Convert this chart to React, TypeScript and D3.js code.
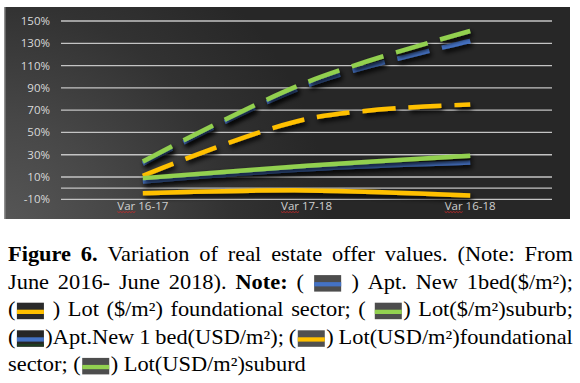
import React from "react";
import * as d3 from "d3";

const categories = ["Var 16-17", "Var 17-18", "Var 16-18"];
const yTicks = [-10, 10, 30, 50, 70, 90, 110, 130, 150];
const gridValues = [-10, 0, 10, 30, 50, 70, 90, 110, 130, 150];

// dashed series ($/m2)
const aptNew1bedPeso = [22, 92, 132];
const lotFoundationalPeso = [11, 62, 75];
const lotSuburbPeso = [24, 95, 141];
// solid series (USD/m2)
const aptNew1bedUsd = [6, 17, 23];
const lotFoundationalUsd = [-4.5, -2, -6.5];
const lotSuburbUsd = [9, 20, 29];

const BLUE = "#4472c4";
const ORANGE = "#ffc000";
const GREEN = "#92d050";

const seriesList = [
  { name: "Apt. New 1bed($/m2)", values: aptNew1bedPeso, color: BLUE, dashed: true },
  { name: "Lot ($/m2) foundational sector", values: lotFoundationalPeso, color: ORANGE, dashed: true },
  { name: "Lot($/m2)suburb", values: lotSuburbPeso, color: GREEN, dashed: true },
  { name: "Apt.New 1 bed(USD/m2)", values: aptNew1bedUsd, color: BLUE, dashed: false },
  { name: "Lot(USD/m2)foundational sector", values: lotFoundationalUsd, color: ORANGE, dashed: false },
  { name: "Lot(USD/m2)suburd", values: lotSuburbUsd, color: GREEN, dashed: false },
];

// caption: lines -> words -> pieces
type Piece = { t?: string; b?: boolean; icon?: number };
const captionLines: { words: Piece[][]; justify: boolean }[] = [
  {
    justify: true,
    words: [
      [{ t: "Figure", b: true }],
      [{ t: "6.", b: true }],
      [{ t: "Variation" }],
      [{ t: "of" }],
      [{ t: "real" }],
      [{ t: "estate" }],
      [{ t: "offer" }],
      [{ t: "values." }],
      [{ t: "(Note:" }],
      [{ t: "From" }],
    ],
  },
  {
    justify: true,
    words: [
      [{ t: "June" }],
      [{ t: "2016-" }],
      [{ t: "June" }],
      [{ t: "2018)." }],
      [{ t: "Note:", b: true }],
      [{ t: "(" }],
      [{ icon: 0 }],
      [{ t: ")" }],
      [{ t: "Apt." }],
      [{ t: "New" }],
      [{ t: "1bed($/m²);" }],
    ],
  },
  {
    justify: true,
    words: [
      [{ t: "(" }, { icon: 1 }],
      [{ t: ")" }],
      [{ t: "Lot" }],
      [{ t: "($/m²)" }],
      [{ t: "foundational" }],
      [{ t: "sector;" }],
      [{ t: "(" }],
      [{ icon: 2 }, { t: ")" }],
      [{ t: "Lot($/m²)suburb;" }],
    ],
  },
  {
    justify: true,
    words: [
      [{ t: "(" }, { icon: 3 }, { t: ")Apt.New" }],
      [{ t: "1" }],
      [{ t: "bed(USD/m²);" }],
      [{ t: "(" }, { icon: 4 }, { t: ")" }],
      [{ t: "Lot(USD/m²)foundational" }],
    ],
  },
  {
    justify: false,
    words: [
      [{ t: "sector;" }],
      [{ t: "(" }, { icon: 5 }, { t: ")" }],
      [{ t: "Lot(USD/m²)suburd" }],
    ],
  },
];

const iconStyles = [
  { bg: "#4d4d4d", stripe: BLUE, dots: false },
  { bg: "#2a2a2a", stripe: ORANGE, dots: false },
  { bg: "#4d4d4d", stripe: GREEN, dots: false },
  { bg: "#262626", stripe: BLUE, dots: true },
  { bg: "#505050", stripe: ORANGE, dots: false },
  { bg: "#4d4d4d", stripe: GREEN, dots: false },
];

const W = 580;
const H = 383;
const SERIF = '"Liberation Serif", "Times New Roman", serif';
const SANS = '"Open Sans", "Noto Sans", sans-serif';
const CAP_SIZE = 20;
const SX = 1.12; // horizontal stretch of caption text
const ICON_W = 27 / SX;
const ICON_PAD = 1.3;

let measureCtx: CanvasRenderingContext2D | null = null;
function measure(text: string, font: string): number {
  if (!measureCtx) {
    const c = document.createElement("canvas");
    measureCtx = c.getContext("2d");
  }
  if (!measureCtx) return text.length * 8;
  measureCtx.font = font;
  return measureCtx.measureText(text).width;
}

function serifFont(b?: boolean) {
  return `${b ? "bold " : ""}${CAP_SIZE}px "Liberation Serif"`;
}

function pieceWidth(p: Piece) {
  if (p.icon !== undefined) return ICON_W + ICON_PAD * 2;
  return measure(p.t || "", serifFont(p.b));
}

function Caption() {
  const left = 8 / SX;
  const right = 573 / SX;
  const firstBaseline = 261;
  const lineGap = 27.6;
  const out: React.ReactNode[] = [];
  captionLines.forEach((line, li) => {
    const baseline = firstBaseline + li * lineGap;
    const wordWidths = line.words.map((w) => w.reduce((s, p) => s + pieceWidth(p), 0));
    const total = wordWidths.reduce((a, b) => a + b, 0);
    const gap = line.justify
      ? (right - left - total) / (line.words.length - 1)
      : measure(" ", serifFont(false));
    let x = left;
    line.words.forEach((w, wi) => {
      let px = x;
      w.forEach((p, pi) => {
        const pw = pieceWidth(p);
        if (p.icon !== undefined) {
          const st = iconStyles[p.icon];
          const ix = px + ICON_PAD;
          const iy = baseline - 13.5;
          out.push(
            <g key={`i${li}-${wi}-${pi}`} transform={`translate(${ix},${iy})`}>
              <rect width={ICON_W} height={16.5} fill={st.bg} />
              <rect y={7} width={ICON_W} height={4.3} fill={st.stripe} />
              {st.dots && <rect y={13.5} width={ICON_W} height={2.5} fill="#1f3d22" />}
            </g>
          );
        } else {
          out.push(
            <text
              key={`t${li}-${wi}-${pi}`}
              x={px}
              y={baseline}
              fontFamily={SERIF}
              fontSize={CAP_SIZE}
              fontWeight={p.b ? "bold" : "normal"}
              fill="#000"
            >
              {p.t}
            </text>
          );
        }
        px += pw;
      });
      x += wordWidths[wi] + gap;
    });
  });
  return <g transform={`scale(${SX},1)`}>{out}</g>;
}

function Chart() {
  const plotLeft = 61;
  const plotRight = 552;
  const x = d3.scalePoint<string>().domain(categories).range([plotLeft, plotRight]).padding(0.5);
  const y = d3.scaleLinear().domain([-10, 150]).range([199.3, 21]);
  const line = d3
    .line<number>()
    .x((_, i) => x(categories[i]) as number)
    .y((d) => y(d))
    .curve(d3.curveCatmullRom.alpha(0.5));

  const labelFont = `11.5px "Open Sans"`;
  return (
    <g>
      <defs>
        <radialGradient id="bgGrad" gradientUnits="userSpaceOnUse" cx={0} cy={235} r={330}>
          <stop offset="0" stopColor="#585858" />
          <stop offset="0.35" stopColor="#474747" />
          <stop offset="0.7" stopColor="#323232" />
          <stop offset="1" stopColor="#272727" />
        </radialGradient>
        <filter id="shadow" filterUnits="userSpaceOnUse" x={0} y={0} width={W} height={230}>
          <feDropShadow dx={2} dy={3} stdDeviation={2.6} floodColor="#000" floodOpacity={1} />
        </filter>
      </defs>
      <rect x={4} y={7} width={566} height={212} fill="url(#bgGrad)" />
      <line x1={4.75} x2={4.75} y1={7} y2={219} stroke="#8f8f8f" strokeWidth={1.5} />
      {gridValues.map((v) => (
        <line
          key={v}
          x1={plotLeft}
          x2={plotRight}
          y1={y(v)}
          y2={y(v)}
          stroke="#c4c4c4"
          strokeWidth={1.3}
        />
      ))}
      {yTicks.map((v) => (
        <text
          key={v}
          x={50}
          y={y(v)}
          dy="0.35em"
          textAnchor="end"
          fontFamily={SANS}
          fontSize={11.5}
          fill="#d9d9d9"
        >
          {`${v}%`}
        </text>
      ))}
      {categories.map((c) => {
        const cx = x(c) as number;
        const full = measure(c, labelFont);
        const varW = measure("Var", labelFont);
        const sx = cx - full / 2;
        const pts: string[] = [];
        for (let k = 0; k <= Math.ceil(varW / 1.5); k++) {
          pts.push(`${sx + k * 1.5},${211.6 + (k % 2 === 0 ? 0 : 0.9)}`);
        }
        return (
          <g key={c}>
            <text x={cx} y={209.5} textAnchor="middle" fontFamily={SANS} fontSize={11.5} fill="#d0d0d0">
              {c}
            </text>
            <polyline points={pts.join(" ")} fill="none" stroke="#d02a2a" strokeWidth={0.8} />
          </g>
        );
      })}
      {seriesList.map((s) => (
        <path
          key={s.name}
          d={line(s.values) || ""}
          fill="none"
          stroke={s.color}
          strokeWidth={4.5}
          strokeDasharray={s.dashed ? "33 13" : undefined}
          filter="url(#shadow)"
        />
      ))}
    </g>
  );
}

export default function App() {
  return (
    <svg
      width={W}
      height={H}
      viewBox={`0 0 ${W} ${H}`}
      style={{ position: "absolute", left: 0, top: 0, background: "#fff" }}
    >
      <rect width={W} height={H} fill="#fff" />
      <Chart />
      <Caption />
    </svg>
  );
}
